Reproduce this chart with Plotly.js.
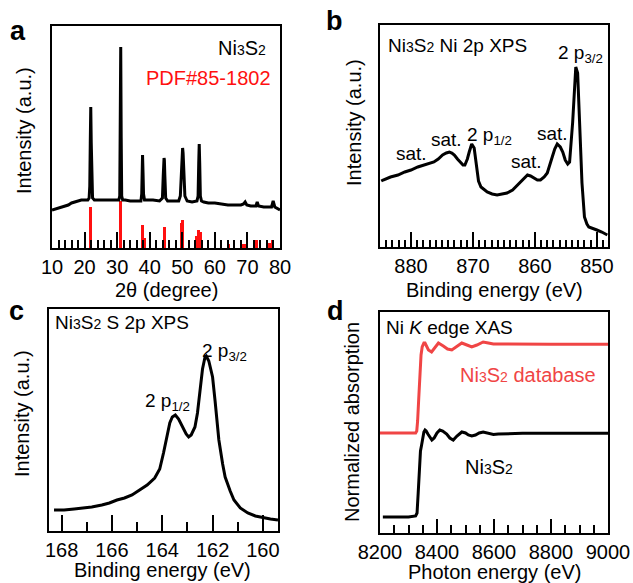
<!DOCTYPE html>
<html><head><meta charset="utf-8">
<script src="https://cdn.plot.ly/plotly-3.0.1.min.js"></script>
<style>html,body{margin:0;padding:0;background:#fff}#chart{width:633px;height:583px}</style>
</head><body><div id="chart"></div>
<script>
// ---- Panel a: XRD ----
const xrdAngle = [10,11,12,13,14,15,16,17,18,19,20,21,21.4,21.6,21.75,21.9,22.05,22.2,22.45,23,25,27,29,30.5,30.8,30.95,31.1,31.25,31.4,31.7,32.5,34,36,37.3,37.55,37.7,37.8,37.95,38.1,38.4,39,41,43,43.9,44.15,44.3,44.4,44.5,44.65,44.9,45.5,47,48.9,49.4,49.75,49.95,50.1,50.25,50.45,50.8,51.5,53,54.5,54.85,55.05,55.2,55.35,55.55,55.9,56.6,58,60,62,64,66,68,68.8,69.3,69.8,71,72.6,73.0,73.4,75,77.4,77.9,78.4,79,80];
const xrdInt   = [38,39,40,41,42,43,45,46,47,48,48,48,50,62,105,141,105,62,50,48,48,48,48,48,52,110,201,110,52,48,48,47,47,47,54,75,93,75,54,48,48,48,47,50,72,88,90,88,72,50,47,47,47,52,80,95,100,95,80,52,47,46,47,52,85,104,85,52,47,46,45,45,44,43,43,43,44,46,43,42,42,46,42,41,41,47,41,40,38];
const pdfAngle = [21.7,31.1,37.7,38.5,44.4,49.6,50.2,54.4,55.1,55.6,64.3,68.2,69.0,72.8,76.9,77.7];
const pdfInt   = [41,47,23,10,21,25,28,12,18,16,4,4.5,4.5,8,5.5,8];
// ---- Panel b: Ni 2p XPS ----
const ni2pE = [884.8,884.5,883.3,882.1,881,880,878.9,877.9,877.1,876.3,875.6,874.9,874.3,873.8,873.4,873.0,872.5,872.0,871.6,871.3,870.9,870.6,870.2,869.8,869.4,869.1,868.7,868.2,867.7,866.9,866.1,865.3,864.5,863.6,862.8,862.0,861.2,860.7,860.2,859.6,859.1,858.5,858.0,857.6,857.2,856.8,856.4,855.9,855.5,855.1,854.7,854.4,854.2,853.9,853.7,853.5,853.4,853.1,852.8,852.4,852.0,851.6,851.3,850.6,850.0,849.2,848.3];
const ni2pI = [66,67,70,72,75,77,80,82,84,85,88,92,94,95,94,92,88,84,82,82,88,95,103,99,77,66,60,57,55,53,52,53,54,57,62,67,72,71,69,67,67,70,74,81,90,98,103,100,95,87,83,85,100,125,147,170,180,174,130,64,30,23,20,18,17,15,12];
// ---- Panel c: S 2p XPS ----
const s2pE = [168.3,167.9,167.5,167.15,166.8,166.4,166.1,165.8,165.5,165.2,164.9,164.6,164.3,164.1,163.95,163.8,163.7,163.6,163.48,163.35,163.2,163.05,162.95,162.85,162.7,162.6,162.5,162.4,162.3,162.25,162.15,162.0,161.9,161.75,161.6,161.5,161.3,161.15,160.9,160.6,160.3,159.95,159.7,159.4];
const s2pI = [21,21,22,23,24,26,28,31,33,36,41,46,53,62,78,95,108,114,116,112,104,97,94,96,104,118,140,162,174,175,170,154,130,91,67,54,40,31,23,18,15,13,12,11];
// ---- Panel d: Ni K-edge XAS ----
const xasE = [8210,8250,8300,8325,8330,8334,8338,8342,8346,8350,8354,8358,8362,8368,8375,8382,8390,8400,8410,8420,8434,8445,8457,8470,8487,8500,8510,8522,8535,8548,8562,8575,8588,8598,8615,8645,8700,8800,8900,9000];
const xasMeasured = [16,16,16,17,20,40,66,82,88,96,101,103,102,99,96,93,95,100,103,102,99,95,93,97,101,100,98,97,98,100,101,100,99,98.5,99,99.5,99.7,99.7,99.7,99.7];
const xasRefE = [8200,8250,8300,8325,8329,8332,8336,8340,8344,8348,8354,8358,8362,8370,8381,8392,8405,8422,8437,8452,8470,8487,8505,8522,8540,8562,8580,8598,8640,8700,8800,8900,9000];
const xasDatabase = [100,100,100,100,102,112,135,160,178,186,190,190,188,183,181,185,190,187,184,183,187,190,188,186,188,191,190,189,189,188.7,188.7,188.7,188.7];

const red = '#ff1010';
const redD = '#f04545';
const font = {family: '"Liberation Sans", Arial, sans-serif', size: 20, color: '#000'};
const lineW = 3;

const traces = [
  {type:'bar', x: pdfAngle, y: pdfInt, width: 0.9, marker:{color:red, line:{width:0}}, xaxis:'x', yaxis:'y', hoverinfo:'skip'},
  {type:'scatter', mode:'lines', x: xrdAngle, y: xrdInt, line:{color:'#000', width:lineW}, xaxis:'x', yaxis:'y'},
  {type:'scatter', mode:'lines', x: ni2pE, y: ni2pI, line:{color:'#000', width:lineW}, xaxis:'x2', yaxis:'y2'},
  {type:'scatter', mode:'lines', x: s2pE, y: s2pI, line:{color:'#000', width:lineW}, xaxis:'x3', yaxis:'y3'},
  {type:'scatter', mode:'lines', x: xasRefE, y: xasDatabase, line:{color:redD, width:lineW}, xaxis:'x4', yaxis:'y4'},
  {type:'scatter', mode:'lines', x: xasE, y: xasMeasured, line:{color:'#000', width:lineW}, xaxis:'x4', yaxis:'y4'}
];

function xax(domain, range, dtick, tick0, len, mdtick, mlen, anchor){
  return {domain, range, autorange:false, dtick, tick0, ticks:'inside', ticklen:len, tickwidth:2, tickcolor:'#000',
    minor:{ticks:'inside', dtick:mdtick, ticklen:mlen, tickwidth:2, tickcolor:'#000', showgrid:false},
    showline:true, linewidth:2, linecolor:'#000', mirror:true, showgrid:false, zeroline:false,
    tickfont:font, anchor, fixedrange:true};
}
function yax(domain, range, anchor){
  return {domain, range, autorange:false, showline:true, linewidth:2, linecolor:'#000', mirror:true,
    showgrid:false, zeroline:false, showticklabels:false, ticks:'', anchor, fixedrange:true};
}
const W=633, H=583;
const dx = (a,b)=>[a/W,b/W], dy=(top,bot)=>[1-bot/H,1-top/H];

const sm = s=>'<span style="font-size:14px">'+s+'</span>';
const ni3s2 = 'Ni'+sm('3')+'S'+sm('2');

function ann(text,x,y,opts){
  return Object.assign({text, x:x/W, y:1-y/H, xref:'paper', yref:'paper', showarrow:false, font:font, xanchor:'center', yanchor:'middle'}, opts||{});
}
const bold = {family:'"Liberation Sans", Arial, sans-serif', size:27, color:'#000', weight:'bold'};
const f19 = Object.assign({},font,{size:19});
const annotations = [
  ann('<b>a</b>',18,31,{font:bold}),
  ann('<b>b</b>',334,21,{font:bold}),
  ann('<b>c</b>',16,311,{font:bold}),
  ann('<b>d</b>',335,311,{font:bold}),
  ann(ni3s2,268,48,{xanchor:'right'}),
  ann('PDF#85-1802',273,78,{xanchor:'right', font:Object.assign({},font,{color:red})}),
  ann(ni3s2+' Ni 2p XPS',386,45,{xanchor:'left', font:f19}),
  ann('2 p<sub>3/2</sub>',556,54,{xanchor:'left', font:f19}),
  ann('sat.',411,153,{font:f19}),
  ann('sat.',446,139,{font:f19}),
  ann('2 p<sub>1/2</sub>',465,136,{xanchor:'left', font:f19}),
  ann('sat.',526,162,{font:f19}),
  ann('sat.',552,133,{font:f19}),
  ann(ni3s2+' S 2p XPS',53,322,{xanchor:'left', font:f19}),
  ann('2 p<sub>3/2</sub>',200,352,{xanchor:'left', font:f19}),
  ann('2 p<sub>1/2</sub>',143,402,{xanchor:'left', font:f19}),
  ann('Ni <i>K</i> edge XAS',384,327,{xanchor:'left', font:f19}),
  ann(ni3s2+' database',598,375,{xanchor:'right', font:Object.assign({},font,{color:redD})}),
  ann(ni3s2,463,467,{xanchor:'left'}),
  ann('Intensity (a.u.)',24,131,{textangle:-90}),
  ann('Intensity (a.u.)',354,123,{textangle:-90}),
  ann('Intensity (a.u.)',22,414,{textangle:-90}),
  ann('Normalized absorption',352,422,{textangle:-90}),
  ann('2θ (degree)',166,290),
  ann('Binding energy (eV)',494,290),
  ann('Binding energy (eV)',163,570),
  ann('Photon energy (eV)',494,572)
];

const layout = {
  width:W, height:H, margin:{l:0,r:0,t:0,b:0}, paper_bgcolor:'#fff', plot_bgcolor:'#fff',
  showlegend:false, font:font, bargap:0,
  xaxis: xax(dx(52,280), [10,80], 10, 10, 16, 2, 8, 'y'),
  yaxis: yax(dy(26,248), [0,222], 'x'),
  xaxis2: xax(dx(380,608), [885,848.2], 10, 850, 15, 1, 7, 'y2'),
  yaxis2: yax(dy(25,247), [0,222], 'x2'),
  xaxis3: xax(dx(49,278), [168.5,159.4], 2, 160, 16, 1, 9, 'y3'),
  yaxis3: yax(dy(309,531), [0,222], 'x3'),
  xaxis4: xax(dx(380,608), [8200,9000], 200, 8200, 14, 50, 8, 'y4'),
  yaxis4: yax(dy(312,533), [0,221], 'x4'),
  annotations
};
Plotly.newPlot('chart', traces, layout, {staticPlot:true, displayModeBar:false});
</script></body></html>
